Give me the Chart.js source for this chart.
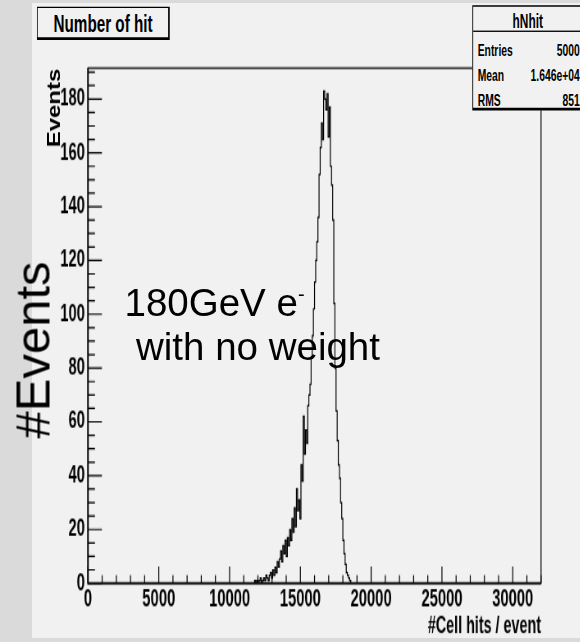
<!DOCTYPE html>
<html>
<head>
<meta charset="utf-8">
<script src="https://cdn.jsdelivr.net/npm/chart.js@4.4.0/dist/chart.umd.min.js"></script>
<style>
  html, body { margin: 0; padding: 0; }
  body { width: 580px; height: 642px; background: #dadada; position: relative; overflow: hidden;
         font-family: "Liberation Sans", Arial, sans-serif; }
  #panel { position: absolute; left: 32px; top: 3px; width: 548px; height: 635px; background: #f1f1f1; }
  /* the ROOT canvas part of the picture is squeezed in x and stretched in y */
  #root { position: absolute; left: 0; top: 0; width: 707.3px; height: 482.7px;
          transform-origin: 0 0; transform: scale(0.82, 1.33); }
  #wrap { position: absolute; left: 0; top: 0; width: 707.3px; height: 482.7px; }
  .bold { font-family: "Liberation Sans", Arial, sans-serif; font-weight: bold; }
  #title { position: absolute; left: 45.1px; top: 4.5px; width: 162.2px; height: 25px; box-sizing: border-box;
           border: 1px solid #000; border-right-width: 2px; border-bottom-width: 2px;
           background: #f1f1f1; font-size: 18.6px; line-height: 1; text-align: center; }
  #title span { position: absolute; left: 0; right: 0; top: 3.5px; white-space: nowrap; }
  #stats { position: absolute; left: 575.6px; top: 3.8px; width: 137px; height: 79px; box-sizing: border-box;
           border: 1px solid #000; border-right-width: 2px; border-bottom-width: 2px; background: #f1f1f1; }
  #stats .sep { position: absolute; left: 0; right: 0; top: 18px; border-top: 1px solid #000; }
  #stats .t { position: absolute; line-height: 1; white-space: nowrap; }
  #stats .hd { left: 0; right: 0; text-align: center; font-size: 14.5px; top: 4.5px; }
  #stats .k { left: 6px; font-size: 12.6px; }
  #stats .v { right: 3.7px; font-size: 12.6px; text-align: right; }
  .note { position: absolute; white-space: nowrap; line-height: 1; color: #000; }
  #ytitle { left: 53.8px; top: 107.5px; font-size: 18px; transform: translate(-50%, -50%) rotate(-90deg) scaleX(1.33); }
  #ev { left: 33px; top: 350px; font-size: 49px; transform: translate(-50%, -50%) rotate(-90deg); }
  #l1 { left: 124.5px; top: 284.4px; font-size: 38.5px; }
  #l1 sup { font-size: 20px; position: relative; top: -15px; vertical-align: baseline; }
  #l2 { left: 136px; top: 328.4px; font-size: 38.5px; }
</style>
</head>
<body>
<div id="panel"></div>
<div id="root">
  <div id="wrap"><canvas id="hist"></canvas></div>
  <div id="title" class="bold"><span>Number of hit</span></div>
  <div id="stats" class="bold">
    <div class="t hd">hNhit</div>
    <div class="sep"></div>
    <div class="t k" style="top:26.9px">Entries</div><div class="t v" style="top:26.9px">5000</div>
    <div class="t k" style="top:46px">Mean</div><div class="t v" style="top:46px">1.646e+04</div>
    <div class="t k" style="top:65.2px">RMS</div><div class="t v" style="top:65.2px">851</div>
  </div>
</div>
<div id="ytitle" class="note bold">Events</div>
<div id="ev" class="note">#Events</div>
<div id="l1" class="note">180GeV e<sup>-</sup></div>
<div id="l2" class="note">with no weight</div>

<script>
// histogram: bins of 80 hits starting at 11760
const binLow = 11760;
const binWidth = 80;
const counts = [
  1, 0, 1, 0, 1, 2, 0, 1, 2, 1,
  3, 2, 1, 3, 4, 2, 5, 3, 6, 4,
  8, 6, 9, 12, 8, 14, 11, 16, 10, 17,
  14, 20, 16, 24, 19, 28, 21, 35, 27, 31,
  24, 44, 38, 62, 48, 57, 52, 66, 70, 74,
  84, 92, 102, 112, 120, 127, 136, 152, 162, 171,
  165, 183, 180, 176, 182, 166, 177, 155, 148, 135,
  104, 80, 64, 53, 44, 39, 30, 24, 16, 11,
  7, 4, 3, 2, 1
];
const xTicks = [0, 5000, 10000, 15000, 20000, 25000, 30000];
const yTicks = [0, 20, 40, 60, 80, 100, 120, 140, 160, 180];

const points = [{x: binLow - binWidth, y: 0}];
counts.forEach((c, i) => points.push({x: binLow + i * binWidth, y: c}));
points.push({x: binLow + counts.length * binWidth, y: 0});

const tickFont = {family: '"Liberation Sans", Arial, sans-serif', weight: 'bold', size: 18};

// ROOT style frame with inward major/minor ticks
const rootFrame = {
  id: 'rootFrame',
  afterDraw(chart) {
    const {ctx, chartArea: a, scales: {x, y}} = chart;
    ctx.save();
    ctx.strokeStyle = '#000';
    ctx.lineWidth = 1.2;
    ctx.strokeRect(a.left, a.top, a.right - a.left, a.bottom - a.top);
    ctx.beginPath();
    for (let v = 0; v <= 32000; v += 1000) {
      const px = x.getPixelForValue(v);
      const len = v % 5000 === 0 ? 12.5 : 6;
      ctx.moveTo(px, a.bottom);
      ctx.lineTo(px, a.bottom - len);
    }
    for (let v = 0; v <= 190; v += 5) {
      const py = y.getPixelForValue(v);
      const len = v % 20 === 0 ? 17 : 8.5;
      ctx.moveTo(a.left, py);
      ctx.lineTo(a.left + len, py);
    }
    ctx.stroke();
    ctx.lineWidth = 1.8;
    ctx.beginPath();
    ctx.moveTo(a.left, a.top);
    ctx.lineTo(a.left, a.bottom);
    ctx.lineTo(a.right, a.bottom);
    ctx.stroke();
    ctx.restore();
  }
};

new Chart(document.getElementById('hist'), {
  type: 'line',
  data: {
    datasets: [{
      label: 'hNhit',
      data: points,
      stepped: true,
      borderColor: '#000',
      borderWidth: 1.2,
      pointRadius: 0,
      fill: false
    }]
  },
  options: {
    responsive: true,
    maintainAspectRatio: false,
    animation: false,
    layout: {padding: {top: 51.1, right: 47.5, left: 0, bottom: 0}},
    plugins: {legend: {display: false}, tooltip: {enabled: false}},
    scales: {
      x: {
        type: 'linear',
        min: 0,
        max: 32000,
        grid: {display: false, drawTicks: false},
        border: {display: false},
        afterBuildTicks: s => { s.ticks = xTicks.map(v => ({value: v})); },
        afterFit: s => { s.height = 45.1; },
        ticks: {color: '#000', font: tickFont, padding: 2, maxRotation: 0, autoSkip: false,
                callback: v => String(v)},
        title: {display: true, text: '#Cell hits / event', align: 'end', color: '#000',
                font: {family: tickFont.family, weight: 'bold', size: 17.5}, padding: {top: 0, bottom: 2}}
      },
      y: {
        min: 0,
        max: 191.5,
        grid: {display: false, drawTicks: false},
        border: {display: false},
        afterBuildTicks: s => { s.ticks = yTicks.map(v => ({value: v})); },
        afterFit: s => { s.width = 107.3; },
        ticks: {color: '#000', font: tickFont, padding: 3.7, autoSkip: false,
                callback: v => String(v)}
      }
    }
  },
  plugins: [rootFrame]
});
</script>
</body>
</html>
